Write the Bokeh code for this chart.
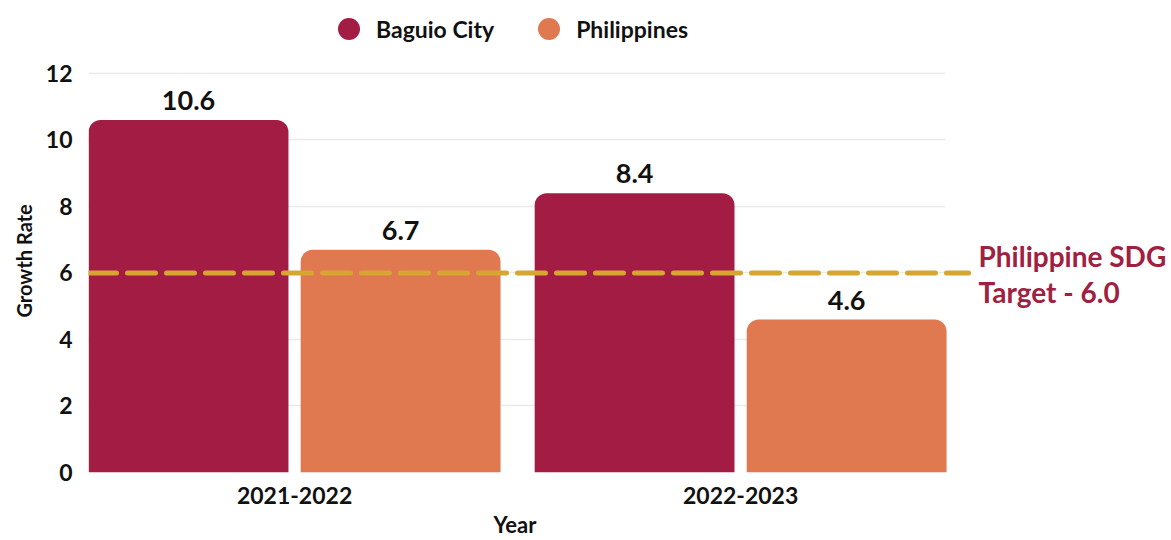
from bokeh.plotting import figure
from bokeh.models import (ColumnDataSource, Range1d, FixedTicker, Label, Title,
                          Legend, LegendItem, Grid, VBar)
from bokeh.transform import dodge
from bokeh.core.properties import value
from bokeh.embed import file_html
from bokeh.resources import INLINE

# ---- data ----
years = ["2021-2022", "2022-2023"]
series_names = ["Baguio City", "Philippines"]
baguio = [10.6, 8.4]
philippines = [6.7, 4.6]
sdg_target = 6.0
y_ticks = [0, 2, 4, 6, 8, 10, 12]

# ---- style / layout ----
C_BAG = "#A31C44"
C_PHL = "#E07850"
C_DASH = "#D6A630"
C_SDG = "#A0213F"
C_TXT = "#111111"
FONT = "Lato"

X_START, X_END = -0.462, 1.966   # frame spans to the right edge
BAR_AREA_END = 1.46              # grid extent
LINE_END = 1.511                 # end of the target line
Y_END = 14.195                   # frame spans to the top edge

idx = list(range(len(years)))
src = ColumnDataSource(dict(
    idx=idx, baguio=baguio, philippines=philippines,
    baguio_lbl=[f"{v:.1f}" for v in baguio],
    phl_lbl=[f"{v:.1f}" for v in philippines],
))

p = figure(width=1171, height=540, output_backend="svg", toolbar_location=None,
           x_range=Range1d(X_START, X_END), y_range=Range1d(0, Y_END),
           min_border_left=88, min_border_right=0, min_border_top=0,
           min_border_bottom=68)
p.outline_line_color = None
p.background_fill_color = "white"
p.border_fill_color = "white"

# grid
p.xgrid.visible = False
p.ygrid.ticker = FixedTicker(ticks=y_ticks)
p.ygrid.grid_line_color = "#EAEAEA"
p.ygrid.grid_line_width = 1.5
if "cross_bounds" in Grid.properties():
    p.ygrid.cross_bounds = (X_START, BAR_AREA_END)

# bars
offset = 0.2377
bw = 0.448
kw = {}
if "border_radius" in VBar.properties():
    kw["border_radius"] = (12, 12, 0, 0)
p.vbar(x=dodge("idx", -offset, range=p.x_range), top="baguio", width=bw,
       source=src, fill_color=C_BAG, line_color=None, **kw)
p.vbar(x=dodge("idx", offset, range=p.x_range), top="philippines", width=bw,
       source=src, fill_color=C_PHL, line_color=None, **kw)

# value labels
for col, lbl, off in (("baguio", "baguio_lbl", -offset), ("philippines", "phl_lbl", offset)):
    p.text(x=dodge("idx", off, range=p.x_range), y=col, text=lbl, source=src,
           text_align="center", text_baseline="bottom", y_offset=-10,
           text_font=value(FONT), text_font_style="bold", text_font_size="27px",
           text_color=C_TXT)

# target line
p.segment(x0=[X_START], x1=[LINE_END], y0=[sdg_target], y1=[sdg_target],
          line_color=C_DASH, line_width=5, line_dash="28 11", line_cap="round")

p.add_layout(Label(x=890, y=217, x_units="screen", y_units="screen",
                   text="Philippine SDG", text_baseline="middle", text_align="left",
                   text_font=FONT, text_font_style="bold", text_font_size="28px",
                   text_color=C_SDG))
p.add_layout(Label(x=890, y=181, x_units="screen", y_units="screen",
                   text=f"Target - {sdg_target:.1f}", text_baseline="middle",
                   text_align="left", text_font=FONT, text_font_style="bold",
                   text_font_size="28px", text_color=C_SDG))

# axes
p.xaxis.ticker = FixedTicker(ticks=idx)
p.xaxis.major_label_overrides = {i: y for i, y in zip(idx, years)}
p.yaxis.ticker = FixedTicker(ticks=y_ticks)
for ax in (p.xaxis[0], p.yaxis[0]):
    ax.axis_line_color = None
    ax.major_tick_line_color = None
    ax.minor_tick_line_color = None
    ax.major_label_text_font = FONT
    ax.major_label_text_font_style = "bold"
    ax.major_label_text_font_size = "23px"
    ax.major_label_text_color = C_TXT
p.yaxis.major_label_standoff = 10
p.xaxis.major_label_standoff = 8

# axis titles, placed along the data area
p.add_layout(Title(text="Year", align="left", offset=405, standoff=5,
                   text_font=FONT, text_font_style="bold", text_font_size="22px",
                   text_color=C_TXT), "below")
p.add_layout(Title(text="Growth Rate", align="left", offset=155, standoff=13,
                   text_font=FONT, text_font_style="bold", text_font_size="20px",
                   text_color=C_TXT), "left")

# legend with circle markers (inside the frame's top strip)
l1 = p.scatter(x=dodge("idx", -offset, range=p.x_range), y="baguio", source=src,
               marker="circle", size=0, fill_color=C_BAG, line_color=None)
l2 = p.scatter(x=dodge("idx", offset, range=p.x_range), y="philippines", source=src,
               marker="circle", size=0, fill_color=C_PHL, line_color=None)
legend = Legend(items=[LegendItem(label=series_names[0], renderers=[l1]),
                       LegendItem(label=series_names[1], renderers=[l2])],
                orientation="horizontal", location=(233, 416),
                glyph_width=55, glyph_height=55, label_standoff=-7, spacing=27,
                padding=0, margin=0, border_line_color=None,
                background_fill_alpha=0,
                label_text_font=FONT, label_text_font_style="bold",
                label_text_font_size="23px", label_text_color=C_TXT)
p.add_layout(legend, "center")

open("out.html", "w").write(file_html(p, INLINE))
